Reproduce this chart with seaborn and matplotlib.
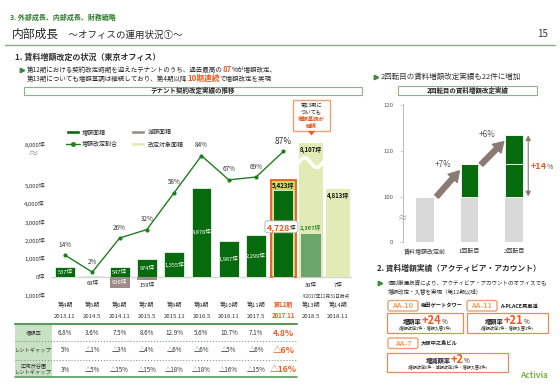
import numpy as np
import pandas as pd
import seaborn as sns
import matplotlib.pyplot as plt
import matplotlib.transforms as mtransforms
from matplotlib.patches import Rectangle, FancyBboxPatch, Patch, Polygon
from matplotlib.lines import Line2D

# ---- data ----
periods = ['第4期', '第5期', '第6期', '第7期', '第8期', '第9期', '第10期', '第11期', '第12期', '第13期', '第14期']
dates = ['2013.11', '2014.5', '2014.11', '2015.5', '2015.11', '2016.5', '2016.11', '2017.5', '2017.11', '2018.5', '2018.11']
inc_area = [537, 69, 547, 974, 1355, 4878, 1987, 2299, 4728]   # 増額面積 第4期-第12期
dec_area = [0, 0, 626, 159, 0, 0, 0, 0, 0]                      # 減額面積
inc_ratio = [14, 2, 26, 32, 58, 84, 67, 69, 87]                 # 増額改定割合 (%)
target_area = [5423, 8107, 4813]                                # 改定対象面積 第12期-第14期
done_13 = 2367                                                  # 第13期 増額済み
dec_future = [39, 7]                                            # 第13期・第14期 減額
rate_row = ['6.8%', '3.6%', '7.5%', '8.6%', '12.9%', '5.6%', '10.7%', '7.1%', '4.8%']
gap_row = ['5%', '△1%', '△3%', '△4%', '△6%', '△6%', '△5%', '△6%', '△6%']
shibuya_row = ['3%', '△5%', '△15%', '△15%', '△18%', '△18%', '△16%', '△15%', '△16%']
row_names = ['増額率', 'レントギャップ', '広域渋谷圏\nレントギャップ']

turns = ['賃料増額改定前', '1回転目', '2回転目']
turn_base = [100, 100, 100]
turn_step1 = [0, 7, 7]
turn_step2 = [0, 0, 6.4]
turn_pct = ['+7%', '+6%']
total_pct = '+14'

GREEN = '#066b0c'
BROWN = '#9d8c87'
PALE = '#e2ebb6'
PALE12 = '#c9d862'
MID = '#6ca56c'
LINE = '#1f7f1f'
ORANGE = '#ec5a1e'
BOXOR = '#f0a070'
GRAY = '#d9d9d9'
ARROW = '#8b7a74'

sns.set_theme(style='white')
plt.rcParams['font.family'] = ['Noto Sans CJK JP', 'DejaVu Sans']
plt.rcParams['axes.unicode_minus'] = False

W, H = 560, 388
fig = plt.figure(figsize=(5.6, 3.88), dpi=100)
fig.patch.set_facecolor('white')
PIX = mtransforms.IdentityTransform()


def T(x, y, s, **kw):
    kw.setdefault('va', 'center')
    return fig.text(x / W, 1 - y / H, s, **kw)


def rich(x, y, parts, ha='left', va='baseline'):
    r = fig.canvas.get_renderer()
    items = []
    for s, kw in parts:
        t = fig.text(0, 1 - y / H, s, va=va, ha='left', zorder=4, **kw)
        items.append((t, t.get_window_extent(renderer=r).width))
    total = sum(w for _, w in items)
    left = x - total / 2 if ha == 'center' else x
    cur = left
    for t, w in items:
        t.set_x(cur / W)
        cur += w
    return left, total


def box(x0, y0, x1, y1, style='square,pad=0', **kw):
    fig.add_artist(FancyBboxPatch((x0, H - y1), x1 - x0, y1 - y0, boxstyle=style,
                                  transform=PIX, **kw))


def hline(x0, x1, y, **kw):
    fig.add_artist(Line2D([x0 / W, x1 / W], [1 - y / H, 1 - y / H], **kw))


def bullet(x, y, color='#3a8a3a'):
    fig.add_artist(Line2D([x / W], [1 - y / H], marker='>', color=color, markersize=3.2, lw=0))


# ---- header ----
T(10, 17, '3. 外部成長、内部成長、財務戦略', color='#2d7a2d', fontsize=5, fontweight='bold')
rich(12, 37.5, [('内部成長', dict(fontsize=8.5)), ('　～オフィスの運用状況①～', dict(fontsize=6.8))])
T(548, 34, '15', fontsize=7, ha='right', color='#333333')
hline(5, 555, 44.5, color='#8fa98f', lw=1)

T(15, 57, '1. 賃料増額改定の状況（東京オフィス）', fontsize=5.8, fontweight='bold', color='#333333')
bullet(22, 70)
rich(27, 72, [('第12期における契約改定時期を迎えたテナントのうち、過去最高の', dict(fontsize=4.7)),
              ('87', dict(fontsize=5.6, color=ORANGE, fontweight='bold')),
              ('%が増額改定、', dict(fontsize=4.7))])
rich(27, 81, [('第13期についても増額基調は継続しており、第4期以降', dict(fontsize=4.7)),
              ('10期連続', dict(fontsize=5.6, color=ORANGE, fontweight='bold')),
              ('で増額改定を実現', dict(fontsize=4.7))])
box(24, 86.5, 362, 95, fc='white', ec='#8db08d', lw=0.8)
T(193, 90.8, 'テナント契約改定実績の推移', fontsize=4.7, fontweight='bold', ha='center')

# ---- left chart ----
ax = fig.add_axes([51.35 / W, 1 - 300.8 / H, 300.3 / W, 170.2 / H])
ax.set_facecolor('none')


def squash(v):
    # broken axis above 5,000坪
    return v if v <= 5000 else 5000 + (v - 5000) * 0.75


tgt_idx = [8, 9, 10]
for k, (i, v) in enumerate(zip(tgt_idx, target_area)):
    if k == 0:
        ax.bar(i, squash(v), width=0.92, color=PALE12, edgecolor=ORANGE, lw=1.3)
    else:
        ax.bar(i, squash(v), width=0.88, color=PALE, lw=0)

inc_df = pd.DataFrame({'period': periods[:9], 'area': inc_area})
sns.barplot(data=inc_df, x='period', y='area', order=periods, color=GREEN, width=0.73,
            saturation=1, errorbar=None, ax=ax, edgecolor='white', linewidth=0.5)
dec_df = pd.DataFrame({'period': periods[:9], 'area': [-d for d in dec_area]})
sns.barplot(data=dec_df, x='period', y='area', order=periods, color=BROWN, width=0.73,
            saturation=1, errorbar=None, ax=ax, linewidth=0)
ax.bar(9, done_13, width=0.73, color=MID, lw=0)
ax.bar([9, 10], [-d for d in dec_future], width=0.73, color='#c8c8c8', lw=0)

# wave break on 第13期 bar
xs = np.linspace(8.56, 9.44, 40)
ax.plot(xs, 6250 - 260 * np.sin((xs - 9) / 0.44 * np.pi), color='white', lw=2.6)

ax.axhline(0, color='#d6d6d6', lw=1, zorder=0.5)
ax.set_xlim(-0.5, 10.5)
ax.set_ylim(-1300, 8000)
ax.set_xticks([])
ax.set_xlabel('')
ax.set_ylabel('')
yt = [-1000, 0, 1000, 2000, 3000, 4000, 5000, 8000]
ax.set_yticks([squash(v) for v in yt])
ax.set_yticklabels([f'{abs(v):,}坪' for v in yt], fontsize=4.3, color='#333333')
ax.tick_params(axis='y', length=0, pad=4.5)
for s in ax.spines.values():
    s.set_visible(False)
T(33, 154, '≈', fontsize=8, color='#9a9a9a', ha='center')

# value labels
for i, v in enumerate(inc_area[:8]):
    if v >= 300:
        ax.text(i, v / 2, f'{v:,}坪', color='white', ha='center', va='center', fontsize=4.1)
    else:
        ax.text(i, -330, f'{v:,}坪', color='#222222', ha='center', va='center', fontsize=4.1)
for i, d in enumerate(dec_area):
    if d >= 300:
        ax.text(i, -d / 2, f'{d:,}坪', color='white', ha='center', va='center', fontsize=4.1)
    elif d > 0:
        ax.text(i, -d - 330, f'{d:,}坪', color='#222222', ha='center', va='center', fontsize=4.1)
for i, v in zip(tgt_idx, target_area):
    ax.text(i, squash(v) - 150, f'{v:,}坪', color='#111111', ha='center', va='top',
            fontsize=4.3, fontweight='bold')
ax.text(9, done_13 + 120, f'{done_13:,}坪', color='#2e8b2e', ha='center', va='bottom',
        fontsize=4.1, fontweight='bold')
for i, d in zip([9, 10], dec_future):
    ax.text(i, -450, f'{d}坪', color='#222222', ha='center', va='center', fontsize=4.1)

# 第12期 highlighted figure in white rounded box
dx, dy = ax.transData.transform((8, inc_area[8] * 0.58))
left, wid = rich(dx - 2, H - dy + 3, [(f'{inc_area[8]:,}', dict(fontsize=6.3, color=ORANGE, fontweight='bold')),
                                      ('坪', dict(fontsize=4.1, color='#111111'))], ha='center')
box(left - 2, H - dy - 6, left + wid + 2, H - dy + 6, style='round,pad=0,rounding_size=2.5',
    fc='white', ec='#aaaaaa', lw=0.6, zorder=3)

# ratio line on twin axis
ax2 = ax.twinx()
ax2.set_ylim(-18.2, 101.7)
sns.lineplot(x=list(range(len(inc_ratio))), y=inc_ratio, ax=ax2, color=LINE, lw=1,
             marker='o', markersize=3, markeredgewidth=0)
for i, p in enumerate(inc_ratio):
    ax2.annotate(f'{p}%', (i, p), xytext=(0, 7.5), textcoords='offset points', ha='center',
                 va='center', fontsize=4.6 if i < 8 else 6, color='#333333')
ax2.axis('off')

handles = [Patch(facecolor=GREEN, label='増額面積'),
           Line2D([0], [0], color=LINE, marker='o', markersize=2.5, lw=1, label='増額改定割合'),
           Patch(facecolor=BROWN, label='減額面積'),
           Patch(facecolor=PALE, label='改定対象面積')]
fig.legend(handles=handles, ncol=2, loc='upper left', bbox_to_anchor=(66 / W, 1 - 129 / H),
           frameon=False, fontsize=4.3, handlelength=2.3, handleheight=0.6, handletextpad=0.4,
           columnspacing=2.2, labelspacing=1.1, borderpad=0, borderaxespad=0)

# period / date labels
trans = mtransforms.blended_transform_factory(ax.transData, fig.transFigure)
for i, (p, d) in enumerate(zip(periods, dates)):
    hl = dict(color=ORANGE, fontweight='bold') if i == 8 else dict(color='#333333')
    ax.text(i, 1 - 305 / H, p, transform=trans, ha='center', va='center', fontsize=4.3, **hl)
    ax.text(i, 1 - 316 / H, d, transform=trans, ha='center', va='center', fontsize=4.3, **hl)
T(325, 296, '※2017年12月31日時点', fontsize=3.3, ha='center', color='#333333')

# callout above 第13期
box(293, 100, 330, 131, fc='white', ec=BOXOR, lw=1)
fig.add_artist(Polygon([(308 / W, 1 - 131 / H), (315 / W, 1 - 131 / H), (311.5 / W, 1 - 135.5 / H)],
                       closed=True, color=ORANGE, lw=0))
T(311.5, 105.5, '第13期に', fontsize=3.8, ha='center')
T(311.5, 112, 'ついても', fontsize=3.8, ha='center')
T(311.5, 119, '増額基調が', fontsize=3.9, ha='center', color=ORANGE, fontweight='bold')
T(311.5, 126, '継続', fontsize=3.9, ha='center', color=ORANGE, fontweight='bold')

# ---- table ----
box(15, 324, 52, 377, fc='#c8e0c4', ec='none')
hline(15, 297, 324, color='#5a9a5a', lw=1.5)
hline(15, 297, 377, color='#5a9a5a', lw=1.2)
hline(15, 297, 341, color='#7aa07a', lw=0.8, ls=':')
hline(15, 297, 360, color='#7aa07a', lw=0.8, ls=':')
for name, y in zip(row_names, [333, 350.5, 369.5]):
    T(33.5, y, name, fontsize=3.8, ha='center', linespacing=1.0, color='#333333')
for row, y in zip([rate_row, gap_row, shibuya_row], [333, 350.5, 369.5]):
    for i, s in enumerate(row):
        if i == 8:
            ax.text(i, 1 - y / H, s, transform=trans, ha='center', va='center', fontsize=6.2,
                    color=ORANGE, fontweight='bold')
        else:
            ax.text(i, 1 - y / H, s, transform=trans, ha='center', va='center', fontsize=4.5,
                    color='#333333')

# ---- right: 2回転目 ----
bullet(376, 77)
T(381, 77, '2回転目の賃料増額改定実績も22件に増加', fontsize=5.4, color='#333333')
box(398, 85.7, 537, 94.5, fc='white', ec='#8db08d', lw=0.8)
T(467.5, 90.3, '2回転目の賃料増額改定実績', fontsize=4.7, fontweight='bold', ha='center')

FLOOR = 90  # position of the broken axis "0"
rax = fig.add_axes([402.75 / W, 1 - 242.3 / H, 133.5 / W, 138.7 / H])
rax.set_facecolor('none')
xr = np.arange(len(turns))
base = np.array(turn_base, dtype=float)
s1 = np.array(turn_step1, dtype=float)
s2 = np.array(turn_step2, dtype=float)
tops = base + s1 + s2
rax.bar(xr, base - FLOOR, bottom=FLOOR, width=0.4, color=GRAY, lw=0)
rax.bar(xr, s1, bottom=base, width=0.4, color=GREEN, edgecolor='white', lw=0.6)
rax.bar(xr, s2, bottom=base + s1, width=0.4, color=GREEN, edgecolor='white', lw=0.6)
rax.set_xlim(-0.5, 2.5)
rax.set_ylim(FLOOR, 120.3)
rax.set_yticks([FLOOR, 100, 110, 120])
rax.set_yticklabels(['0', '100', '110', '120'], fontsize=4.3, color='#555555')
rax.set_xticks(xr)
rax.set_xticklabels(turns, fontsize=4.3, color='#333333')
rax.tick_params(axis='y', length=2, width=0.5, color='#bbbbbb', pad=5, left=True)
rax.tick_params(axis='x', length=0, pad=5)
for k, s in rax.spines.items():
    s.set_visible(k == 'left')
rax.spines['left'].set_color('#bfbfbf')
rax.spines['left'].set_linewidth(0.8)
rax.text(-0.5, 95.3, '≈', fontsize=7, color='#999999', ha='center', va='center', clip_on=False)

for i in range(1, 3):
    rax.annotate('', xy=(i - 0.23, tops[i] - 1.4), xytext=(i - 1 + 0.26, tops[i - 1]),
                 arrowprops=dict(arrowstyle='simple,head_length=0.9,head_width=1.1,tail_width=0.45',
                                 color=ARROW, mutation_scale=8, shrinkA=0, shrinkB=0))
    rax.text(i - 0.6, tops[i] + 0.1, turn_pct[i - 1], fontsize=5.8, color='#555555',
             ha='center', va='center')
rax.annotate('', xy=(2.32, tops[2]), xytext=(2.32, base[2]),
             arrowprops=dict(arrowstyle='<|-|>,head_length=0.5,head_width=0.25', color=ARROW,
                             lw=0.8, mutation_scale=6, shrinkA=0, shrinkB=0), annotation_clip=False)
px_x, px_y = rax.transData.transform((2.62, (tops[2] + base[2]) / 2))
rich(px_x, H - px_y + 3, [(total_pct, dict(fontsize=6.5, color=ORANGE, fontweight='bold')),
                          ('%', dict(fontsize=5, color='#555555'))], ha='center')

# ---- right: section 2 ----
T(377, 268, '2. 賃料増額実績（アクティビア・アカウント）', fontsize=5.6, fontweight='bold', color='#333333')
bullet(380, 282.5)
T(388, 282.5, '個別厳選投資により、アクティビア・アカウントのオフィスでも', fontsize=4.0, color='#333333')
T(388, 291.5, '増額改定・入替を実現（第12期以降）', fontsize=4.0, color='#333333')

for lab, name, x0, y0 in [('AA-10', '梅田ゲートタワー', 388, 300.5), ('AA-11', 'A-PLACE馬車道', 467, 300.5),
                          ('AA-7', '大阪中之島ビル', 388, 338)]:
    box(x0, y0, x0 + 30, y0 + 10.5, style='round,pad=0,rounding_size=2', fc='white', ec=BOXOR, lw=1)
    T(x0 + 15, y0 + 5.5, lab, fontsize=5.3, color='#eda060', fontweight='bold', ha='center')
    T(x0 + 33, y0 + 5.5, name, fontsize=3.8, color='#222222', fontweight='bold')

for x0, x1, y0, y1, head, val, sub in [
        (387, 463, 313, 333, '増額率', '+24', '(増額改定1件・増額入替3件)'),
        (467, 548, 313, 333, '増額率', '+21', '(増額改定1件・増額入替1件)'),
        (387, 508, 352.5, 371.5, '増減額率', '+2', '(増額改定5件・減額改定1件・増額入替4件)')]:
    box(x0, y0, x1, y1, fc='white', ec='#ec8a5a', lw=0.9)
    cx = (x0 + x1) / 2
    rich(cx, y0 + 10.5, [(head, dict(fontsize=4.5, fontweight='bold', color='#222222')),
                         (val, dict(fontsize=8, fontweight='bold', color=ORANGE)),
                         ('%', dict(fontsize=4.5, color='#222222'))], ha='center')
    T(cx, y0 + 15, sub, fontsize=3.0, ha='center', color='#222222')

T(534, 376, 'Activia', fontsize=6, color='#7ab648', style='italic', ha='center', fontweight='bold')

fig.savefig('out.png', dpi=100)
